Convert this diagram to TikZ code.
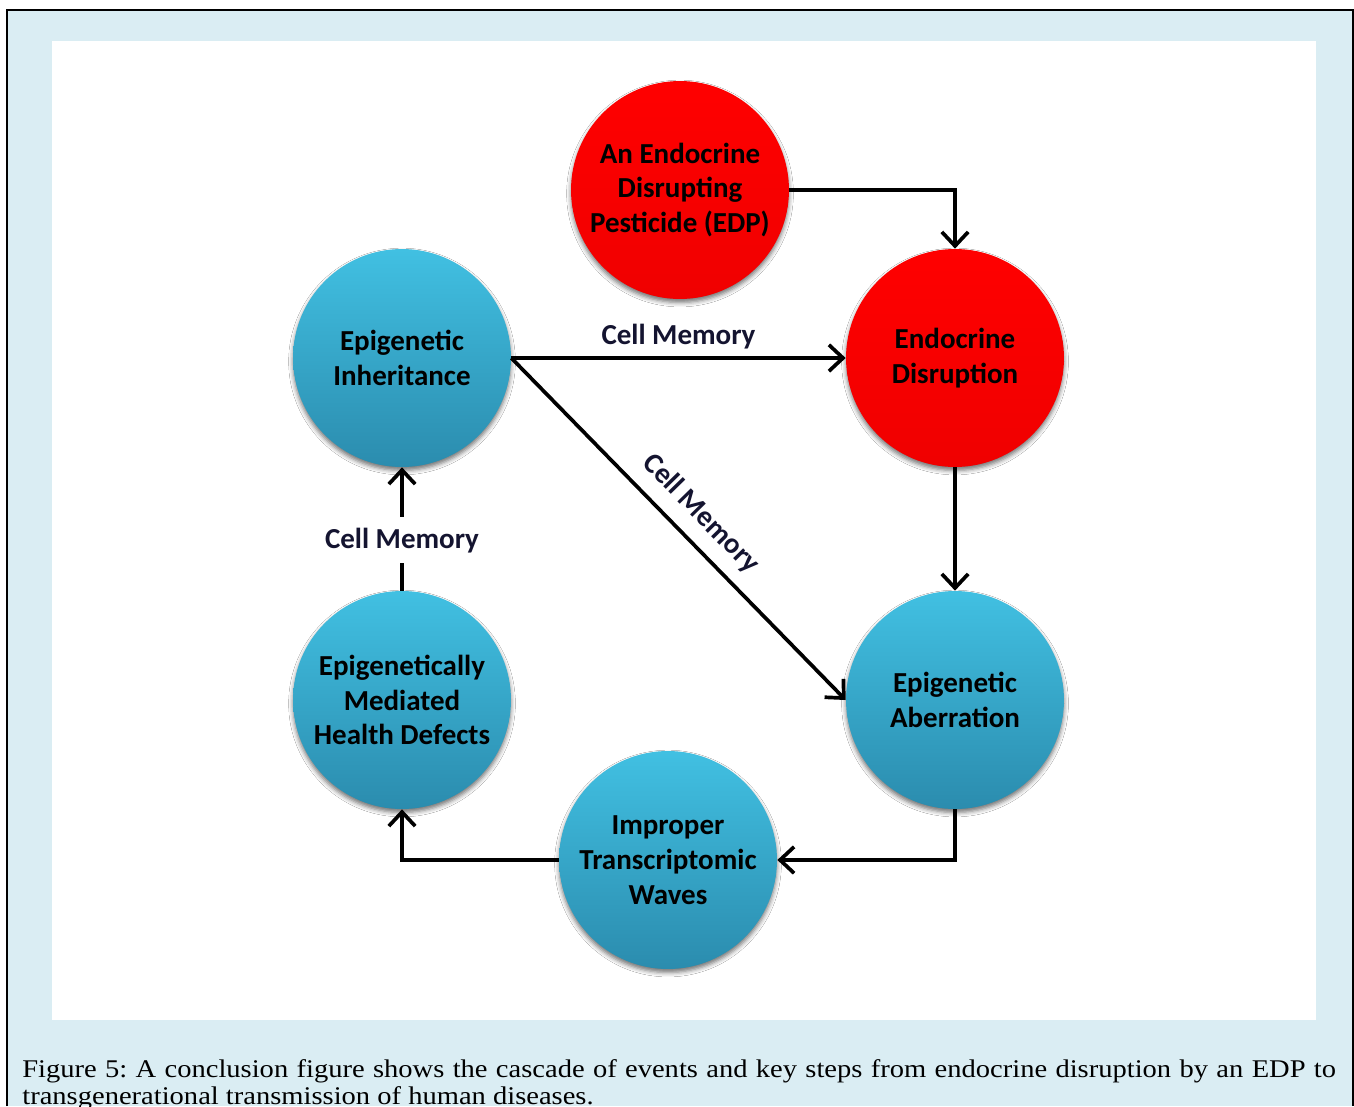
\documentclass[tikz,border=0pt]{standalone}
\usepackage{fontspec}
\setmainfont{Liberation Serif}[FakeStretch=1.12]
\newfontfamily\nodefont{Carlito}
\usetikzlibrary{arrows.meta,shadows.blur}
\definecolor{bgblue}{HTML}{DAEDF3}
\definecolor{ctop}{HTML}{41C0E2}
\definecolor{cbot}{HTML}{2B8CAE}
\definecolor{labelc}{HTML}{141430}
\begin{document}
\frenchspacing
\begin{tikzpicture}[x=0.02cm,y=-0.02cm,
  circ/.style={circle, inner sep=0pt, minimum size=4.36cm, align=center,
    font=\nodefont\bfseries\fontsize{16.5}{19.8}\selectfont, text=black,
    blur shadow={shadow xshift=0pt, shadow yshift=-2pt, shadow blur radius=2.5pt, shadow opacity=55}},
  bluec/.style={circ, top color=ctop, bottom color=cbot},
  redc/.style={circ, top color=red, bottom color=red!94!black},
  conn/.style={line width=2.1pt, -{Straight Barb[length=8pt,width=15pt,line width=2.1pt]}},
  lab/.style={font=\nodefont\bfseries\fontsize{16.5}{19.8}\selectfont, text=labelc, inner sep=0pt}
]
\useasboundingbox (0,0) rectangle (1354,1106);
\fill[white] (0,0) rectangle (1354,1106);
\fill[bgblue] (7,10) rectangle (1353,1106);
\draw[line width=1.4pt] (7,1106) -- (7,10) -- (1353,10) -- (1353,1106);
\fill[white] (52,41) rectangle (1316,1020);

\node[redc]  (edp) at (680,190) {An Endocrine\\Disrupting\\Pesticide (EDP)};
\node[redc]  (ed)  at (955,358) {Endocrine\\Disruption};
\node[bluec] (inh) at (402,358) {Epigenetic\\Inheritance};
\node[bluec] (ab)  at (955,700) {Epigenetic\\Aberration};
\node[bluec] (imp) at (668,860) {Improper\\Transcriptomic\\Waves};
\node[bluec] (hd)  at (402,700) {Epigenetically\\Mediated\\Health Defects};

\draw[conn] (edp.east) -| (ed.north);
\draw[conn] (inh.east) -- node[lab, above=4pt] (l1) {Cell Memory} (ed.west);
\draw[conn] (inh.east) -- node[lab, sloped, above=7pt, pos=0.51] (l2) {Cell Memory} (ab.west);
\draw[conn] (ed.south) -- (ab.north);
\draw[conn] (ab.south) |- (imp.east);
\draw[conn] (imp.west) -| (hd.south);
\draw[conn] (hd.north) -- node[lab, fill=white, pos=0.41, inner ysep=6pt] (l3) {Cell Memory} (inh.south);

\node[anchor=north west, inner sep=0pt, text width=26.28cm, align=justify,
  font=\fontsize{14.5}{15.6}\selectfont] (cap) at (22,1059)
  {Figure 5: A conclusion figure shows the cascade of events and key steps from endocrine disruption by an EDP to\linebreak transgenerational transmission of human diseases.};
\end{tikzpicture}
\end{document}
